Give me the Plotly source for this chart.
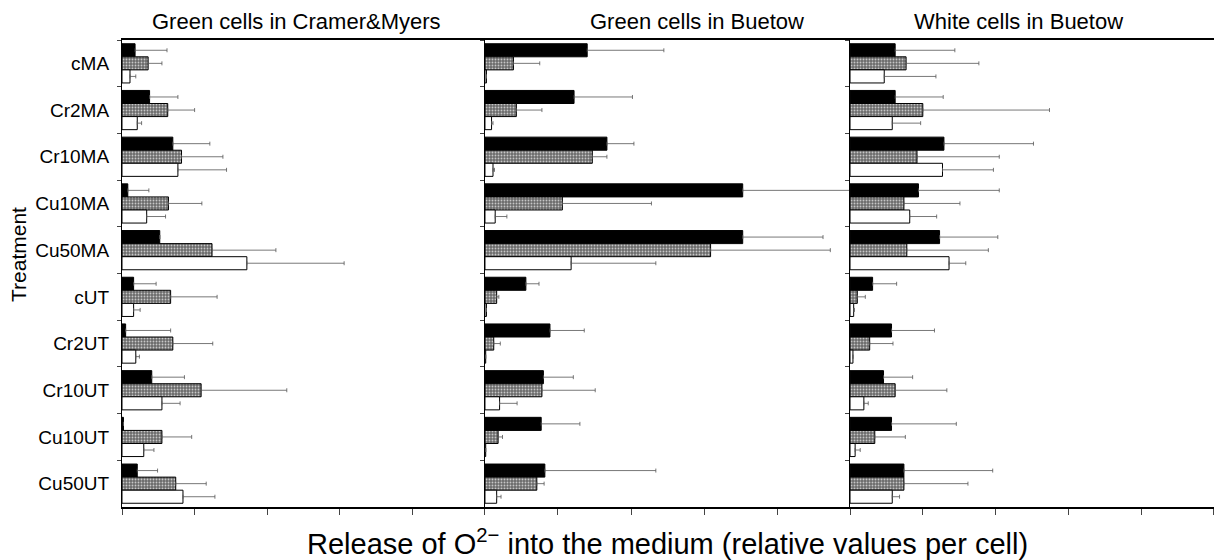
import plotly.graph_objects as go
from plotly.subplots import make_subplots

categories = ["cMA", "Cr2MA", "Cr10MA", "Cu10MA", "Cu50MA",
              "cUT", "Cr2UT", "Cr10UT", "Cu10UT", "Cu50UT"]
panel_titles = ["Green cells in Cramer&Myers", "Green cells in Buetow", "White cells in Buetow"]

# Panel 1: Green cells in Cramer&Myers
cm_black = [0.18, 0.38, 0.70, 0.08, 0.52, 0.16, 0.05, 0.41, 0.02, 0.21]
cm_black_err = [0.44, 0.39, 0.51, 0.29, 0.0, 0.31, 0.62, 0.45, 0.0, 0.28]
cm_gray = [0.36, 0.63, 0.82, 0.64, 1.24, 0.67, 0.70, 1.09, 0.55, 0.74]
cm_gray_err = [0.19, 0.37, 0.57, 0.46, 0.88, 0.64, 0.55, 1.18, 0.41, 0.42]
cm_white = [0.11, 0.21, 0.77, 0.34, 1.72, 0.16, 0.19, 0.55, 0.30, 0.84]
cm_white_err = [0.08, 0.06, 0.67, 0.26, 1.34, 0.09, 0.05, 0.25, 0.14, 0.44]

# Panel 2: Green cells in Buetow
gb_black = [1.40, 1.22, 1.67, 3.53, 3.53, 0.56, 0.89, 0.80, 0.77, 0.82]
gb_black_err = [1.05, 0.80, 0.37, 1.48, 1.10, 0.18, 0.47, 0.41, 0.53, 1.52]
gb_gray = [0.39, 0.43, 1.47, 1.06, 3.09, 0.16, 0.12, 0.78, 0.18, 0.71]
gb_gray_err = [0.36, 0.35, 0.20, 1.22, 1.64, 0.03, 0.09, 0.73, 0.06, 0.10]
gb_white = [0.02, 0.09, 0.11, 0.14, 1.18, 0.02, 0.01, 0.20, 0.01, 0.16]
gb_white_err = [0.0, 0.02, 0.02, 0.16, 1.16, 0.0, 0.0, 0.24, 0.0, 0.06]

# Panel 3: White cells in Buetow
wb_black = [0.62, 0.62, 1.29, 0.94, 1.23, 0.31, 0.57, 0.46, 0.57, 0.74]
wb_black_err = [0.82, 0.66, 1.23, 1.11, 0.80, 0.33, 0.59, 0.40, 0.89, 1.22]
wb_gray = [0.77, 1.00, 0.92, 0.74, 0.78, 0.10, 0.27, 0.62, 0.34, 0.74]
wb_gray_err = [1.00, 1.74, 1.13, 0.77, 1.12, 0.11, 0.32, 0.71, 0.42, 0.88]
wb_white = [0.47, 0.58, 1.27, 0.82, 1.36, 0.05, 0.04, 0.19, 0.07, 0.58]
wb_white_err = [0.71, 0.39, 0.70, 0.37, 0.23, 0.01, 0.0, 0.06, 0.07, 0.10]

panels = [
    (cm_black, cm_black_err, cm_gray, cm_gray_err, cm_white, cm_white_err),
    (gb_black, gb_black_err, gb_gray, gb_gray_err, gb_white, gb_white_err),
    (wb_black, wb_black_err, wb_gray, wb_gray_err, wb_white, wb_white_err),
]

FONT = "Liberation Sans, Arial, sans-serif"
W, H = 1214, 560
ML, MR, MT, MB = 122, 0, 40, 53
PW, PH = W - ML - MR, H - MT - MB

def px_x(x):
    return (x - ML) / PW

def px_y(y):
    return (H - MB - y) / PH

fig = make_subplots(rows=1, cols=3, shared_yaxes=True, horizontal_spacing=0)

def err(vals):
    return dict(type="data", symmetric=False, array=vals, arrayminus=[0] * len(vals),
                color="#555555", thickness=0.8, width=2)

for i, (bk, bke, gr, gre, wh, whe) in enumerate(panels, start=1):
    fig.add_trace(go.Bar(y=categories, x=bk, orientation="h", error_x=err(bke),
                         marker=dict(color="black", line=dict(color="black", width=1)),
                         showlegend=False), row=1, col=i)
    fig.add_trace(go.Bar(y=categories, x=gr, orientation="h", error_x=err(gre),
                         marker=dict(color="#707070", line=dict(color="black", width=1),
                                     pattern=dict(shape=".", fgcolor="#c8c8c8", bgcolor="#6a6a6a",
                                                  size=3, solidity=0.3, fillmode="replace")),
                         showlegend=False), row=1, col=i)
    fig.add_trace(go.Bar(y=categories, x=wh, orientation="h", error_x=err(whe),
                         marker=dict(color="white", line=dict(color="black", width=1)),
                         showlegend=False), row=1, col=i)

fig.update_layout(
    width=W, height=H,
    margin=dict(l=ML, r=MR, t=MT, b=MB, autoexpand=False),
    barmode="group", bargap=0.16, bargroupgap=0,
    plot_bgcolor="white", paper_bgcolor="white",
    font=dict(family=FONT, color="black"),
)

fig.update_xaxes(range=[0, 5], dtick=1, showticklabels=False, ticks="outside", ticklen=6,
                 tickwidth=1.2, showline=True, linecolor="black", linewidth=1.6, mirror=True,
                 showgrid=False, zeroline=False)
fig.update_yaxes(autorange="reversed", tickson="boundaries", ticks="outside", ticklen=4,
                 tickwidth=1.2, showline=True, linecolor="black", linewidth=1.2,
                 showgrid=False, zeroline=False, tickfont=dict(size=19, family=FONT),
                 ticklabelstandoff=8)
fig.update_yaxes(showticklabels=True, row=1, col=1)

fig.update_xaxes(domain=[0.0, 0.3324], row=1, col=1)
fig.update_xaxes(domain=[0.3324, 0.6667], row=1, col=2)
fig.update_xaxes(domain=[0.6667, 1.0], row=1, col=3)

title_px = [296, 697, 1018]
for t, tx in zip(panel_titles, title_px):
    fig.add_annotation(text=t, x=px_x(tx), y=px_y(22), xref="paper", yref="paper",
                       showarrow=False, font=dict(size=22, family=FONT),
                       xanchor="center", yanchor="middle")

fig.add_annotation(text="Release of O<sup>2\u2212</sup> into the medium (relative values per cell)",
                   x=px_x(667), y=px_y(542), xref="paper", yref="paper", showarrow=False,
                   font=dict(size=29, family=FONT), xanchor="center", yanchor="middle")
fig.add_annotation(text="Treatment", x=px_x(18), y=px_y(255), xref="paper", yref="paper",
                   showarrow=False, textangle=-90, font=dict(size=21, family=FONT),
                   xanchor="center", yanchor="middle")

fig.write_html("out.html", config={"displayModeBar": False},
               post_script="document.body.style.margin='0';document.body.style.overflow='hidden';")
